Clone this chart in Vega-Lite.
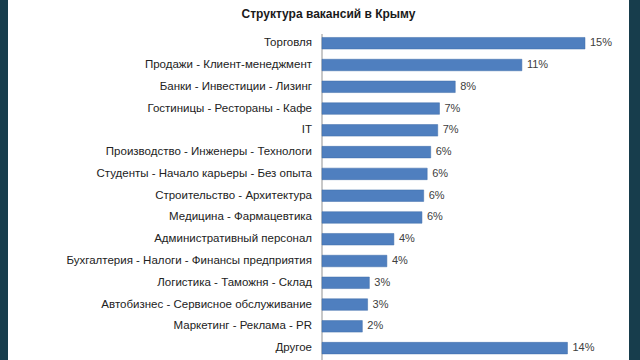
{
  "$schema": "https://vega.github.io/schema/vega-lite/v6.json",
  "width": 621,
  "height": 360,
  "autosize": {"type": "none"},
  "padding": {"left": 8, "right": 11, "top": 0, "bottom": 0},
  "background": "#173d4c",
  "config": {"view": {"fill": "#ffffff", "stroke": null}},
  "title": {
    "text": "Структура вакансий в Крыму",
    "font": "Liberation Sans",
    "fontSize": 12,
    "fontWeight": "bold",
    "color": "#1a1a1a",
    "anchor": "middle",
    "baseline": "middle",
    "offset": -14,
    "dy": 12,
    "dx": 10
  },
  "data": {
    "values": [
      {"cat": "Торговля", "value": 15.0, "label": "15%"},
      {"cat": "Продажи - Клиент-менеджмент", "value": 11.4, "label": "11%"},
      {"cat": "Банки - Инвестиции - Лизинг", "value": 7.6, "label": "8%"},
      {"cat": "Гостиницы - Рестораны - Кафе", "value": 6.7, "label": "7%"},
      {"cat": "IT", "value": 6.6, "label": "7%"},
      {"cat": "Производство - Инженеры - Технологи", "value": 6.2, "label": "6%"},
      {"cat": "Студенты - Начало карьеры - Без опыта", "value": 6.0, "label": "6%"},
      {"cat": "Строительство - Архитектура", "value": 5.8, "label": "6%"},
      {"cat": "Медицина - Фармацевтика", "value": 5.7, "label": "6%"},
      {"cat": "Административный персонал", "value": 4.1, "label": "4%"},
      {"cat": "Бухгалтерия - Налоги - Финансы предприятия", "value": 3.7, "label": "4%"},
      {"cat": "Логистика - Таможня - Склад", "value": 2.7, "label": "3%"},
      {"cat": "Автобизнес - Сервисное обслуживание", "value": 2.6, "label": "3%"},
      {"cat": "Маркетинг - Реклама - PR", "value": 2.3, "label": "2%"},
      {"cat": "Другое", "value": 14.0, "label": "14%"}
    ]
  },
  "encoding": {
    "y": {
      "field": "cat",
      "type": "nominal",
      "sort": null,
      "axis": null,
      "scale": {"paddingInner": 0.47, "paddingOuter": 1.07, "align": 0.86}
    }
  },
  "layer": [
    {
      "mark": {"type": "rule", "color": "#c8c8c8", "strokeWidth": 1},
      "encoding": {
        "x": {"datum": 0, "type": "quantitative", "scale": {"domain": [-17.91, 17.51], "nice": false, "zero": false}, "axis": null},
        "y": {"datum": "Торговля", "type": "nominal", "bandPosition": -0.3},
        "y2": {"value": "height"}
      }
    },
    {
      "mark": {"type": "bar", "color": "#4f7fbf", "stroke": "#3f6ca8", "strokeWidth": 0.5},
      "encoding": {
        "x": {"field": "value", "type": "quantitative"}
      }
    },
    {
      "mark": {"type": "text", "align": "left", "baseline": "middle", "dx": 5, "font": "Liberation Sans", "fontSize": 11, "color": "#404040"},
      "encoding": {
        "x": {"field": "value", "type": "quantitative"},
        "text": {"field": "label"}
      }
    },
    {
      "mark": {"type": "text", "align": "right", "baseline": "middle", "dx": -10, "font": "Liberation Sans", "fontSize": 11.5, "color": "#222222"},
      "encoding": {
        "x": {"datum": 0, "type": "quantitative"},
        "text": {"field": "cat"}
      }
    }
  ]
}
